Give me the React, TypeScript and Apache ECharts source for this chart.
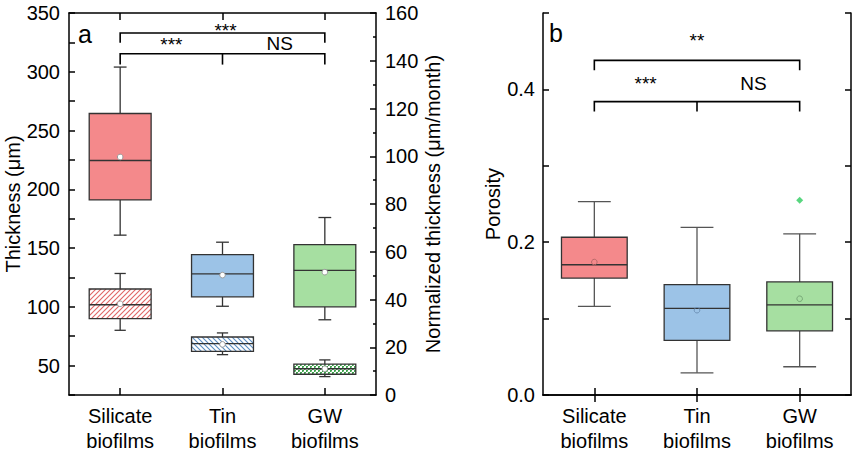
import React, { useEffect, useRef } from "react";
import * as echarts from "echarts";

// ---------- data ----------
const categories = ["Silicate\nbiofilms", "Tin\nbiofilms", "GW\nbiofilms"];
// [lowWhisker, q1, median, q3, highWhisker, mean]
const thicknessBoxes = [
  [161, 191, 224.5, 264.5, 304, 227.5],
  [100.5, 108.5, 128, 144.5, 155, 127],
  [89, 100, 131, 153, 176, 129.5],
];
const normalizedBoxes = [
  [27.1, 32.0, 37.8, 44.4, 50.9, 38.2],
  [16.9, 18.3, 21.5, 24.3, 26.0, 21.2],
  [7.7, 8.7, 11.0, 12.9, 14.7, 11.0],
];
const porosityBoxes = [
  [0.116, 0.153, 0.1705, 0.2065, 0.253, 0.174],
  [0.029, 0.0714, 0.1134, 0.1445, 0.2195, 0.111],
  [0.037, 0.084, 0.118, 0.148, 0.211, 0.126],
];
const porosityOutliers = [[2, 0.255]];

const thicknessLabels = [50, 100, 150, 200, 250, 300, 350];
const porosityLabels = ["0.0", "0.2", "0.4"];

// brackets: y level, drop length, category positions of the drops
const bracketsA = [
  { y: 333, drop: 8.3, at: [0, 2] },
  { y: 315.3, drop: 9.2, at: [0, 1, 2] },
];
const textsA = [
  { text: "***", cat: 1.03, y: 335, size: 19 },
  { text: "***", cat: 0.5, y: 323.2, size: 19 },
  { text: "NS", cat: 1.56, y: 324, size: 19 },
];
const bracketsB = [
  { y: 0.438, drop: 0.013, at: [0, 2] },
  { y: 0.384, drop: 0.013, at: [0, 1, 2] },
];
const textsB = [
  { text: "**", cat: 1.0, y: 0.4635, size: 19 },
  { text: "***", cat: 0.5, y: 0.408, size: 19 },
  { text: "NS", cat: 1.55, y: 0.408, size: 19 },
];

// ---------- styles ----------
const FONT = 'Arial, "Liberation Sans", Helvetica, sans-serif';
const solidColors = ["#F4898B", "#9CC3E7", "#A6DFA1"];
const meanStrokeB = ["#b86a6a", "#6f93b8", "#77a876"];
const AXIS = { color: "#000", width: 1.5 };

function makeStripe(color: string, dir: number) {
  const s = 5;
  const c = document.createElement("canvas");
  c.width = s;
  c.height = s;
  const ctx = c.getContext("2d")!;
  ctx.fillStyle = "#fff";
  ctx.fillRect(0, 0, s, s);
  ctx.strokeStyle = color;
  ctx.lineWidth = 1.1;
  ctx.beginPath();
  if (dir > 0) {
    ctx.moveTo(-1, s + 1);
    ctx.lineTo(s + 1, -1);
    ctx.moveTo(-1, 1);
    ctx.lineTo(1, -1);
    ctx.moveTo(s - 1, s + 1);
    ctx.lineTo(s + 1, s - 1);
  } else {
    ctx.moveTo(-1, -1);
    ctx.lineTo(s + 1, s + 1);
    ctx.moveTo(s - 1, -1);
    ctx.lineTo(s + 1, 1);
    ctx.moveTo(-1, s - 1);
    ctx.lineTo(1, s + 1);
  }
  ctx.stroke();
  return { image: c.toDataURL(), repeat: "repeat", imageWidth: s, imageHeight: s };
}
function makeCheck(color: string) {
  const s = 4;
  const c = document.createElement("canvas");
  c.width = s;
  c.height = s;
  const ctx = c.getContext("2d")!;
  ctx.fillStyle = "#fff";
  ctx.fillRect(0, 0, s, s);
  ctx.fillStyle = color;
  ctx.fillRect(0, 0, 2, 1);
  ctx.fillRect(2, 2, 2, 1);
  ctx.fillRect(0, 1, 1, 1);
  ctx.fillRect(2, 3, 1, 1);
  ctx.globalAlpha = 0.6;
  ctx.fillRect(1, 1, 1, 1);
  ctx.fillRect(3, 3, 1, 1);
  return { image: c.toDataURL(), repeat: "repeat", imageWidth: s, imageHeight: s };
}

function boxRenderer(cfg: {
  boxes: number[][];
  fills: any[];
  boxRatio: number;
  capRatio: number;
  meanFill: (i: number) => string;
  meanStroke: (i: number) => string;
  whisker: string;
}) {
  return (params: any, api: any) => {
    const i = params.dataIndex;
    const cat = api.value(0);
    const band = api.size([1, 0])[0];
    const bw = band * cfg.boxRatio;
    const cw = band * cfg.capRatio;
    const [lo, q1, med, q3, hi, mean] = [1, 2, 3, 4, 5, 6].map((d) => api.value(d));
    const pLo = api.coord([cat, lo]);
    const pQ1 = api.coord([cat, q1]);
    const pMed = api.coord([cat, med]);
    const pQ3 = api.coord([cat, q3]);
    const pHi = api.coord([cat, hi]);
    const pMean = api.coord([cat, mean]);
    const x = pLo[0];
    const ws = { stroke: cfg.whisker, lineWidth: 1.3 };
    return {
      type: "group",
      children: [
        { type: "line", shape: { x1: x, y1: pLo[1], x2: x, y2: pQ1[1] }, style: ws },
        { type: "line", shape: { x1: x, y1: pQ3[1], x2: x, y2: pHi[1] }, style: ws },
        { type: "line", shape: { x1: x - cw / 2, y1: pLo[1], x2: x + cw / 2, y2: pLo[1] }, style: ws },
        { type: "line", shape: { x1: x - cw / 2, y1: pHi[1], x2: x + cw / 2, y2: pHi[1] }, style: ws },
        {
          type: "rect",
          shape: { x: x - bw / 2, y: pQ3[1], width: bw, height: pQ1[1] - pQ3[1] },
          style: { fill: cfg.fills[i], stroke: "#333", lineWidth: 1.3 },
        },
        {
          type: "line",
          shape: { x1: x - bw / 2, y1: pMed[1], x2: x + bw / 2, y2: pMed[1] },
          style: { stroke: "#333", lineWidth: 1.3 },
        },
        {
          type: "circle",
          shape: { cx: x, cy: pMean[1], r: 2.8 },
          style: { fill: cfg.meanFill(i), stroke: cfg.meanStroke(i), lineWidth: 1 },
        },
      ],
    };
  };
}

function bracketRenderer(list: { y: number; drop: number; at: number[] }[]) {
  return (params: any, api: any) => {
    const b = list[params.dataIndex];
    const pts = b.at.map((c) => [api.coord([c, b.y]), api.coord([c, b.y - b.drop])]);
    const first = pts[0];
    const last = pts[pts.length - 1];
    const children: any[] = [
      {
        type: "polyline",
        shape: {
          points: [
            [first[1][0], first[1][1]],
            [first[0][0], first[0][1]],
            [last[0][0], last[0][1]],
            [last[1][0], last[1][1]],
          ],
        },
        style: { stroke: "#000", lineWidth: 1.6, fill: "none" },
      },
    ];
    pts.slice(1, -1).forEach((p: any) => {
      children.push({
        type: "line",
        shape: { x1: p[0][0], y1: p[0][1], x2: p[1][0], y2: p[1][1] },
        style: { stroke: "#000", lineWidth: 1.6 },
      });
    });
    return { type: "group", children };
  };
}

function textRenderer(list: { text: string; cat: number; y: number; size: number }[]) {
  return (params: any, api: any) => {
    const t = list[params.dataIndex];
    const c0 = api.coord([0, t.y]);
    const c1 = api.coord([1, t.y]);
    const x = c0[0] + (c1[0] - c0[0]) * t.cat;
    return {
      type: "text",
      style: {
        text: t.text,
        x,
        y: c0[1],
        textAlign: "center",
        textVerticalAlign: "middle",
        fontSize: t.size,
        fontFamily: FONT,
        fill: "#000",
      },
    };
  };
}

function catAxis(gridIndex: number, position: "top" | "bottom", showLabels: boolean) {
  return {
    gridIndex,
    type: "category",
    data: categories,
    position,
    boundaryGap: true,
    axisLine: { show: true, lineStyle: AXIS },
    axisTick: { show: true, inside: true, alignWithLabel: true, length: 7, lineStyle: AXIS },
    axisLabel: {
      show: showLabels,
      fontSize: 20,
      lineHeight: 25,
      color: "#000",
      fontFamily: FONT,
      margin: 8,
    },
    splitLine: { show: false },
  };
}

export default function App() {
  const ref = useRef<HTMLDivElement>(null);
  useEffect(() => {
    if (!ref.current) return;
    const chart = echarts.init(ref.current, null, { renderer: "svg" });
    const hatchFills = [makeStripe("#E06666", 1), makeStripe("#5B8EC2", -1), makeCheck("#3FA34D")];
    const gridA = { left: 69, top: 13, width: 307, height: 385 };
    const gridB = { left: 543, top: 13, width: 308, height: 385 };
    const labelStyle = { fontSize: 20, color: "#000", fontFamily: FONT };
    const nameStyle = { fontSize: 20, color: "#000", fontFamily: FONT };

    chart.setOption({
      animation: false,
      backgroundColor: "#fff",
      grid: [gridA, gridB],
      xAxis: [
        catAxis(0, "bottom", true),
        catAxis(0, "top", false),
        catAxis(1, "bottom", true),
        catAxis(1, "top", false),
      ],
      yAxis: [
        {
          gridIndex: 0,
          type: "value",
          position: "left",
          min: 25,
          max: 350,
          interval: 25,
          axisLine: { show: true, lineStyle: AXIS },
          axisTick: { show: true, inside: true, length: 6, lineStyle: AXIS },
          axisLabel: {
            ...labelStyle,
            margin: 9,
            formatter: (v: number) => (thicknessLabels.includes(Math.round(v)) ? String(Math.round(v)) : ""),
          },
          splitLine: { show: false },
          name: "Thickness (μm)",
          nameLocation: "middle",
          nameGap: 36,
          nameTextStyle: nameStyle,
        },
        {
          gridIndex: 0,
          type: "value",
          position: "right",
          min: 0,
          max: 160,
          interval: 20,
          axisLine: { show: true, lineStyle: AXIS },
          axisTick: { show: true, inside: true, length: 6, lineStyle: AXIS },
          minorTick: { show: true, splitNumber: 2, length: 3, lineStyle: AXIS },
          axisLabel: { ...labelStyle, margin: 9 },
          splitLine: { show: false },
          name: "Normalized thickness (μm/month)",
          nameLocation: "middle",
          nameGap: 47,
          nameRotate: 90,
          nameTextStyle: nameStyle,
        },
        {
          gridIndex: 1,
          type: "value",
          position: "left",
          min: 0,
          max: 0.5,
          interval: 0.1,
          axisLine: { show: true, lineStyle: AXIS },
          axisTick: { show: true, inside: true, length: 6, lineStyle: AXIS },
          axisLabel: {
            ...labelStyle,
            margin: 8,
            formatter: (v: number) => {
              const s = v.toFixed(1);
              return porosityLabels.includes(s) ? s : "";
            },
          },
          splitLine: { show: false },
          name: "Porosity",
          nameLocation: "middle",
          nameGap: 39,
          nameTextStyle: nameStyle,
        },
        {
          gridIndex: 1,
          type: "value",
          position: "right",
          min: 0,
          max: 0.5,
          interval: 0.1,
          axisLine: { show: true, lineStyle: AXIS },
          axisTick: { show: true, inside: true, length: 6, lineStyle: AXIS },
          axisLabel: { show: false },
          splitLine: { show: false },
        },
      ],
      series: [
        {
          type: "custom",
          xAxisIndex: 0,
          yAxisIndex: 0,
          data: thicknessBoxes.map((b, i) => [i, ...b]),
          encode: { x: 0, y: [1, 2, 3, 4, 5] },
          renderItem: boxRenderer({
            boxes: thicknessBoxes,
            fills: solidColors,
            boxRatio: 0.605,
            capRatio: 0.125,
            meanFill: () => "#fff",
            meanStroke: () => "#9a9a9a",
            whisker: "#333",
          }),
        },
        {
          type: "custom",
          xAxisIndex: 0,
          yAxisIndex: 1,
          data: normalizedBoxes.map((b, i) => [i, ...b]),
          encode: { x: 0, y: [1, 2, 3, 4, 5] },
          renderItem: boxRenderer({
            boxes: normalizedBoxes,
            fills: hatchFills,
            boxRatio: 0.605,
            capRatio: 0.11,
            meanFill: () => "#fff",
            meanStroke: () => "#9a9a9a",
            whisker: "#333",
          }),
        },
        {
          type: "custom",
          xAxisIndex: 2,
          yAxisIndex: 2,
          data: porosityBoxes.map((b, i) => [i, ...b]),
          encode: { x: 0, y: [1, 2, 3, 4, 5] },
          renderItem: boxRenderer({
            boxes: porosityBoxes,
            fills: solidColors,
            boxRatio: 0.64,
            capRatio: 0.32,
            meanFill: () => "none",
            meanStroke: (i) => meanStrokeB[i],
            whisker: "#555",
          }),
        },
        {
          type: "scatter",
          xAxisIndex: 2,
          yAxisIndex: 2,
          data: porosityOutliers,
          symbol: "diamond",
          symbolSize: 7,
          itemStyle: { color: "#2ECC5F" },
        },
        {
          type: "custom",
          xAxisIndex: 0,
          yAxisIndex: 0,
          data: bracketsA.map((b) => [0, b.y]),
          renderItem: bracketRenderer(bracketsA),
        },
        {
          type: "custom",
          xAxisIndex: 0,
          yAxisIndex: 0,
          data: textsA.map((t) => [0, t.y]),
          renderItem: textRenderer(textsA),
        },
        {
          type: "custom",
          xAxisIndex: 2,
          yAxisIndex: 2,
          data: bracketsB.map((b) => [0, b.y]),
          renderItem: bracketRenderer(bracketsB),
        },
        {
          type: "custom",
          xAxisIndex: 2,
          yAxisIndex: 2,
          data: textsB.map((t) => [0, t.y]),
          renderItem: textRenderer(textsB),
        },
      ],
      graphic: [
        { type: "text", left: 78, top: 21, style: { text: "a", fontSize: 25, fontFamily: FONT, fill: "#000" } },
        { type: "text", left: 549, top: 20, style: { text: "b", fontSize: 25, fontFamily: FONT, fill: "#000" } },
      ],
    });
    return () => chart.dispose();
  }, []);
  return (
    <div
      ref={ref}
      style={{ position: "fixed", left: 0, top: 0, width: 855, height: 453, background: "#fff" }}
    />
  );
}
